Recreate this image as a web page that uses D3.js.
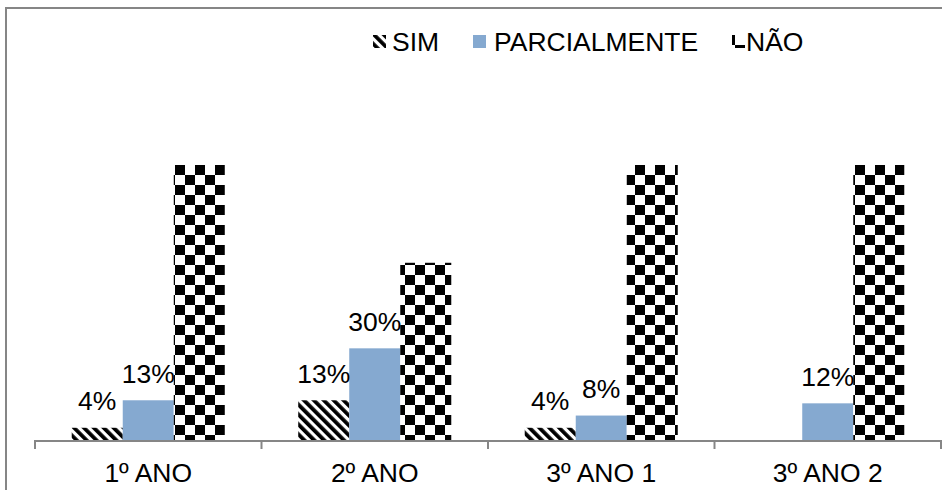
<!DOCTYPE html>
<html>
<head>
<meta charset="utf-8">
<script src="https://cdn.jsdelivr.net/npm/d3@7"></script>
<style>
  html, body { margin: 0; padding: 0; background: #fff; }
  svg { display: block; font-family: "Liberation Sans", Arial, sans-serif; }
</style>
</head>
<body>
<svg id="chart" width="942" height="490"></svg>
<script>
const categories = ["1º ANO", "2º ANO", "3º ANO 1", "3º ANO 2"];
const seriesNames = ["SIM", "PARCIALMENTE", "NÃO"];
const simValues = [0.04, 0.13, 0.04, null];
const parcialValues = [0.13, 0.30, 0.08, 0.12];
const naoValues = [0.90, 0.58, 0.90, 0.90];
const showLabels = [true, true, false];
const yMax = 0.90;

const seriesValues = [simValues, parcialValues, naoValues];
const svg = d3.select("#chart");
const W = 942, H = 490;
const plot = { left: 35, right: 941, top: 165, bottom: 440 };
const FS = 26.5;

const defs = svg.append("defs");
// diagonal hatch for SIM
const hatch = defs.append("pattern").attr("id", "hatch")
  .attr("patternUnits", "userSpaceOnUse").attr("width", 7).attr("height", 7)
  .attr("patternTransform", "rotate(-45)");
hatch.append("rect").attr("width", 7).attr("height", 7).attr("fill", "#fff");
hatch.append("rect").attr("width", 3.8).attr("height", 7).attr("fill", "#000");
// checkerboard for NÃO
const checker = defs.append("pattern").attr("id", "checker")
  .attr("patternUnits", "userSpaceOnUse").attr("width", 20).attr("height", 20)
  .attr("x", 175).attr("y", 165);
checker.append("rect").attr("width", 20).attr("height", 20).attr("fill", "#fff");
checker.append("rect").attr("width", 10).attr("height", 10).attr("fill", "#000");
checker.append("rect").attr("x", 10).attr("y", 10).attr("width", 10).attr("height", 10).attr("fill", "#000");
defs.append("clipPath").attr("id", "plotclip").append("rect")
  .attr("x", plot.left).attr("y", plot.top)
  .attr("width", plot.right - plot.left).attr("height", plot.bottom - plot.top);

const fills = ["url(#hatch)", "#85A9D0", "url(#checker)"];

// outer frame
svg.append("rect").attr("x", 6).attr("y", 8).attr("width", W + 10).attr("height", H + 10)
  .attr("fill", "none").attr("stroke", "#868686").attr("stroke-width", 2);

const x0 = d3.scaleBand().domain(categories).range([plot.left, plot.right]).paddingInner(0).paddingOuter(0);
const x1 = d3.scaleBand().domain(seriesNames).range([0, x0.bandwidth()]).paddingInner(0).paddingOuter(0.72);
const y = d3.scaleLinear().domain([0, yMax]).range([plot.bottom, plot.top]);

const bars = svg.append("g").attr("clip-path", "url(#plotclip)");
seriesNames.forEach((s, si) => {
  bars.selectAll(null)
    .data(categories.map((c, ci) => ({ c, v: seriesValues[si][ci] })).filter(d => d.v != null && d.v > 0))
    .join("rect")
    .attr("x", d => x0(d.c) + x1(s))
    .attr("y", d => y(d.v))
    .attr("width", x1.bandwidth())
    .attr("height", d => y(0) - y(d.v))
    .attr("fill", fills[si]);
});

// data labels
seriesNames.forEach((s, si) => {
  if (!showLabels[si]) return;
  svg.append("g").selectAll("text")
    .data(categories.map((c, ci) => ({ c, v: seriesValues[si][ci] })).filter(d => d.v != null))
    .join("text")
    .attr("x", d => x0(d.c) + x1(s) + x1.bandwidth() / 2)
    .attr("y", d => y(d.v) - 17.5)
    .attr("text-anchor", "middle")
    .attr("font-size", FS)
    .attr("fill", "#000")
    .text(d => d3.format(".0%")(d.v));
});

// x axis
const xAxis = d3.axisBottom(x0).tickSize(0).tickPadding(0);
const ax = svg.append("g").attr("transform", `translate(0,${plot.bottom})`).call(xAxis);
ax.select(".domain").remove();
ax.selectAll(".tick line").remove();
ax.selectAll(".tick text").attr("font-size", FS).attr("fill", "#000")
  .attr("font-family", "Liberation Sans, Arial, sans-serif")
  .attr("dy", null).attr("y", 42);
svg.append("line").attr("x1", plot.left).attr("x2", plot.right)
  .attr("y1", plot.bottom + 1).attr("y2", plot.bottom + 1)
  .attr("stroke", "#868686").attr("stroke-width", 2);
const bounds = categories.map(c => x0(c)).concat([x0(categories[categories.length - 1]) + x0.bandwidth()]);
svg.append("g").selectAll("line").data(bounds).join("line")
  .attr("x1", d => d).attr("x2", d => d)
  .attr("y1", plot.bottom).attr("y2", plot.bottom + 9)
  .attr("stroke", "#868686").attr("stroke-width", 2);

// legend
const legendItems = [
  { name: seriesNames[0], sx: 373, tx: 392 },
  { name: seriesNames[1], sx: 473, tx: 494 },
  { name: seriesNames[2], sx: 732, tx: 746 }
];
const lg = svg.append("g");
legendItems.forEach((it, i) => {
  lg.append("rect").attr("x", it.sx).attr("y", 35).attr("width", 13).attr("height", 13)
    .attr("fill", fills[i]);
  lg.append("text").attr("x", it.tx).attr("y", 51).attr("font-size", FS).attr("fill", "#000")
    .text(it.name);
});
</script>
</body>
</html>
